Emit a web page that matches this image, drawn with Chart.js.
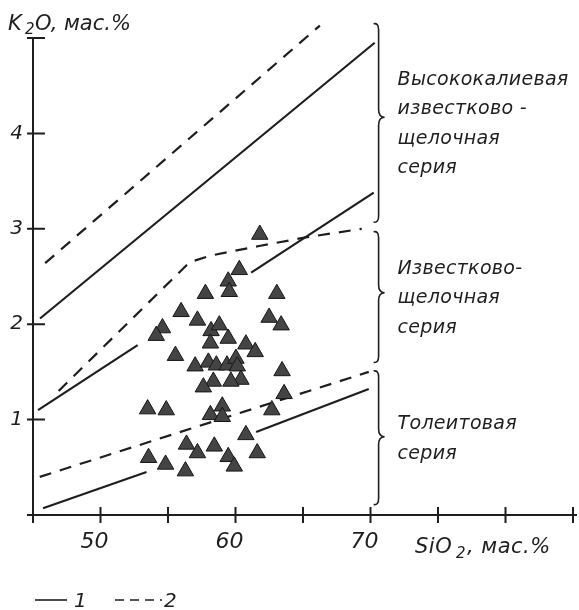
<!DOCTYPE html>
<html>
<head>
<meta charset="utf-8">
<script src="https://cdn.jsdelivr.net/npm/chart.js@4.4.1/dist/chart.umd.min.js"></script>
<style>
  html, body { margin: 0; padding: 0; background: #fff; }
</style>
</head>
<body>
<canvas id="chart" width="579" height="610"></canvas>
<script>
// samples (triangles): SiO2 vs K2O, wt.%
const sampleSiO2 = [61.80, 60.28, 59.46, 59.54, 57.77, 63.06, 55.97, 57.18, 62.49, 63.38,
  54.59, 54.13, 58.19, 58.80, 59.46, 58.14, 60.77, 61.46, 55.55, 57.01,
  57.99, 58.58, 59.37, 60.03, 60.13, 60.40, 59.66, 58.36, 57.62, 63.45,
  63.60, 62.69, 53.49, 54.87, 59.02, 58.14, 59.02, 60.77, 56.37, 57.18,
  58.43, 59.46, 59.91, 61.61, 53.56, 54.82, 56.29];
const sampleK2O = [2.94, 2.57, 2.45, 2.34, 2.32, 2.32, 2.13, 2.04, 2.07, 1.99,
  1.96, 1.88, 1.93, 1.99, 1.85, 1.80, 1.79, 1.71, 1.67, 1.56,
  1.60, 1.57, 1.57, 1.64, 1.56, 1.42, 1.40, 1.40, 1.34, 1.51,
  1.27, 1.10, 1.11, 1.10, 1.14, 1.05, 1.03, 0.84, 0.74, 0.65,
  0.72, 0.61, 0.51, 0.65, 0.60, 0.53, 0.46];

// boundary lines (1 - solid, 2 - dashed)
const highKDashedX = [45.9, 66.25];
const highKDashedY = [2.64, 5.13];
const highKSolidX = [45.52, 70.31];
const highKSolidY = [2.06, 4.95];
const calcSolidAX = [45.37, 52.75];
const calcSolidAY = [1.10, 1.78];
const calcSolidBX = [61.16, 70.24];
const calcSolidBY = [2.54, 3.38];
const calcDashedX = [46.9, 56.6, 58.2, 61.75, 65.2, 69.35];
const calcDashedY = [1.30, 2.65, 2.72, 2.82, 2.91, 3.00];
const tholDashedX = [45.5, 69.87];
const tholDashedY = [0.40, 1.50];
const tholSolidAX = [45.74, 53.41];
const tholSolidAY = [0.07, 0.45];
const tholSolidBX = [61.53, 69.87];
const tholSolidBY = [0.87, 1.32];

// series braces on the right
const braceX = 70.6;
const braceTop = [5.16, 2.98, 1.52];
const braceTip = [4.17, 2.33, 0.82];
const braceBottom = [3.06, 1.59, 0.10];
const seriesLabels = [
  ['Высококалиевая', 'известково -', 'щелочная', 'серия'],
  ['Известково-', 'щелочная', 'серия'],
  ['Толеитовая', 'серия']
];
const labelTopY = [4.51, 2.53, 0.90];

const xTickLabels = [50, 60, 70];
const yTickLabels = [1, 2, 3, 4];

const INK = '#1e1e1e';
const toXY = (xs, ys) => xs.map((x, i) => ({ x: x, y: ys[i] }));

function lineSet(xs, ys, dashed) {
  return {
    data: toXY(xs, ys),
    showLine: true,
    pointRadius: 0,
    borderColor: INK,
    borderWidth: 2.2,
    borderDash: dashed ? [12, 9] : [],
    clip: false,
    order: 1
  };
}

function drawBrace(ctx, x, top, tip, bot) {
  ctx.beginPath();
  ctx.moveTo(x - 5, top + 1);
  ctx.quadraticCurveTo(x, top, x, top + 7);
  ctx.lineTo(x, tip - 8);
  ctx.quadraticCurveTo(x, tip, x + 6, tip);
  ctx.quadraticCurveTo(x, tip, x, tip + 8);
  ctx.lineTo(x, bot - 7);
  ctx.quadraticCurveTo(x, bot, x - 5, bot - 1);
  ctx.stroke();
}

// axes with crossing ticks, braces, titles and legend
const decor = {
  id: 'decor',
  afterDatasetsDraw(chart) {
    const ctx = chart.ctx;
    const xs = chart.scales.x, ys = chart.scales.y;
    const x0 = xs.getPixelForValue(45), y0 = ys.getPixelForValue(0);
    ctx.save();
    ctx.strokeStyle = INK;
    ctx.fillStyle = INK;
    ctx.lineWidth = 2;
    ctx.setLineDash([]);
    // axes
    ctx.beginPath();
    ctx.moveTo(x0 - 6, y0);
    ctx.lineTo(xs.getPixelForValue(85) + 4, y0);
    ctx.moveTo(x0, y0 + 8);
    ctx.lineTo(x0, ys.getPixelForValue(5));
    for (let v = 50; v <= 85; v += 5) {
      const px = xs.getPixelForValue(v);
      ctx.moveTo(px, y0 - 8);
      ctx.lineTo(px, y0 + 8);
    }
    for (let v = 1; v <= 5; v++) {
      const py = ys.getPixelForValue(v);
      ctx.moveTo(x0 - 6, py);
      ctx.lineTo(x0 + 12, py);
    }
    ctx.stroke();

    // braces
    ctx.lineWidth = 1.6;
    const bx = xs.getPixelForValue(braceX);
    braceTop.forEach((t, i) => {
      drawBrace(ctx, bx, ys.getPixelForValue(t), ys.getPixelForValue(braceTip[i]), ys.getPixelForValue(braceBottom[i]));
    });

    // series labels
    ctx.font = 'italic 19px "DejaVu Sans"';
    ctx.letterSpacing = '0.3px';
    ctx.textBaseline = 'alphabetic';
    ctx.textAlign = 'left';
    seriesLabels.forEach((lines, i) => {
      const top = ys.getPixelForValue(labelTopY[i]);
      lines.forEach((s, j) => ctx.fillText(s, bx + 19, top + j * 29.5));
    });

    // axis titles
    ctx.letterSpacing = '0px';
    ctx.font = 'italic 21px "DejaVu Sans"';
    ctx.fillText('K', 8, 30);
    ctx.font = 'italic 15px "DejaVu Sans"';
    ctx.fillText('2', 25, 34);
    ctx.font = 'italic 21px "DejaVu Sans"';
    ctx.fillText('O, мас.%', 35, 30);

    ctx.letterSpacing = '0.5px';
    ctx.fillText('SiO', 415, 553);
    ctx.font = 'italic 15px "DejaVu Sans"';
    ctx.fillText('2', 456, 558);
    ctx.font = 'italic 21px "DejaVu Sans"';
    ctx.fillText(', мас.%', 467, 553);

    // legend
    ctx.font = 'italic 20px "DejaVu Sans"';
    ctx.beginPath();
    ctx.moveTo(35, 600); ctx.lineTo(67, 600);
    ctx.stroke();
    ctx.fillText('1', 74, 607);
    ctx.setLineDash([9, 6]);
    ctx.beginPath();
    ctx.moveTo(115, 600); ctx.lineTo(162, 600);
    ctx.stroke();
    ctx.setLineDash([]);
    ctx.fillText('2', 164, 607);
    ctx.restore();
  }
};

new Chart(document.getElementById('chart'), {
  type: 'scatter',
  data: {
    datasets: [
      {
        data: toXY(sampleSiO2, sampleK2O),
        pointStyle: 'triangle',
        pointRadius: 9.5,
        pointHoverRadius: 9.5,
        backgroundColor: '#444444',
        borderColor: '#161616',
        borderWidth: 1,
        order: 0
      },
      lineSet(highKDashedX, highKDashedY, true),
      lineSet(highKSolidX, highKSolidY, false),
      lineSet(calcSolidAX, calcSolidAY, false),
      lineSet(calcSolidBX, calcSolidBY, false),
      lineSet(calcDashedX, calcDashedY, true),
      lineSet(tholDashedX, tholDashedY, true),
      lineSet(tholSolidAX, tholSolidAY, false),
      lineSet(tholSolidBX, tholSolidBY, false)
    ]
  },
  options: {
    responsive: false,
    animation: false,
    layout: { autoPadding: false, padding: { top: 38, right: 6, left: 0, bottom: 0 } },
    plugins: { legend: { display: false }, tooltip: { enabled: false } },
    scales: {
      x: {
        type: 'linear',
        min: 45, max: 85,
        afterFit: (s) => { s.height = 95; s.paddingLeft = 0; s.paddingRight = 0; },
        grid: { display: false, drawTicks: false },
        border: { display: false },
        ticks: {
          stepSize: 5,
          padding: 14,
          labelOffset: -6,
          color: INK,
          font: { family: 'DejaVu Sans', size: 22, style: 'italic' },
          callback: (v) => xTickLabels.includes(v) ? String(v) : ''
        }
      },
      y: {
        type: 'linear',
        min: 0, max: 5,
        afterFit: (s) => { s.width = 33; },
        grid: { display: false, drawTicks: false },
        border: { display: false },
        ticks: {
          stepSize: 1,
          padding: 10,
          color: INK,
          font: { family: 'DejaVu Sans', size: 20, style: 'italic' },
          callback: (v) => yTickLabels.includes(v) ? String(v) : ''
        }
      }
    }
  },
  plugins: [decor]
});
</script>
</body>
</html>
